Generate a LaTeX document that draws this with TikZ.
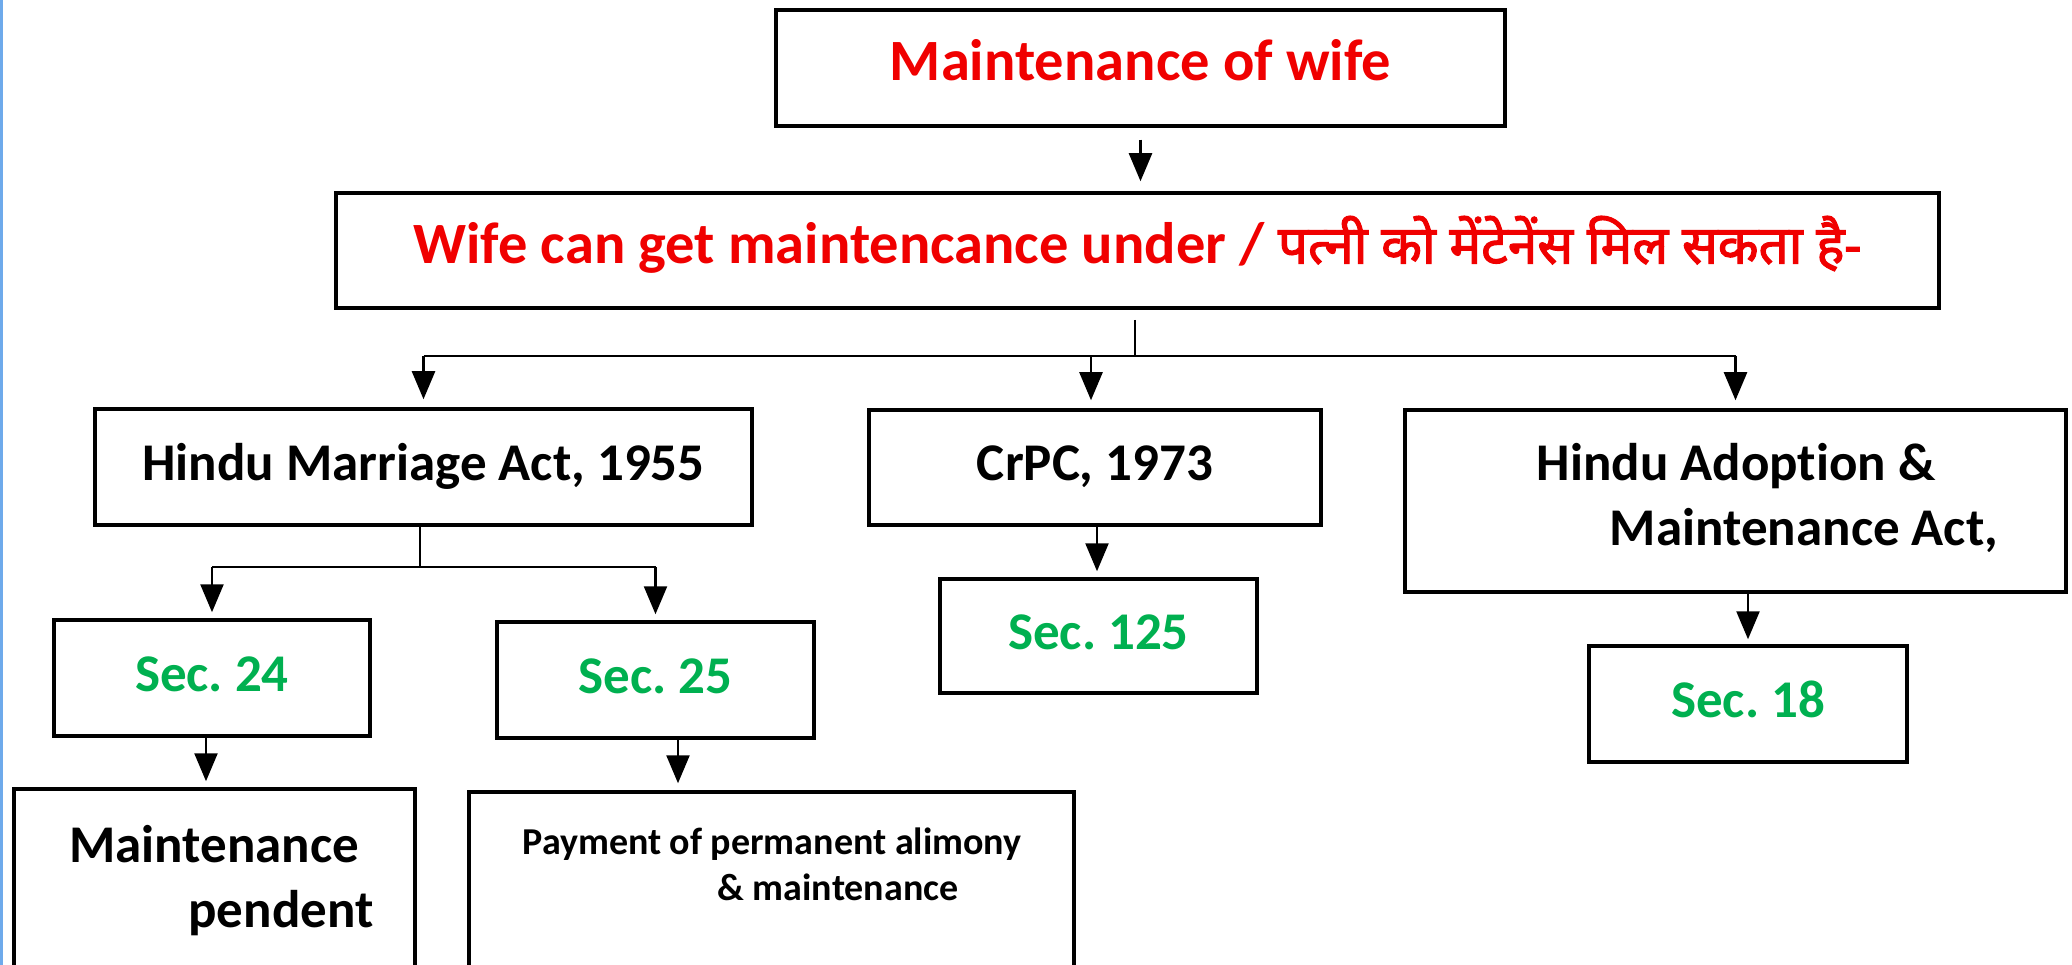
\documentclass[tikz,border=0pt]{standalone}
\usepackage{fontspec}
\setmainfont{Carlito}[Ligatures=NoCommon]
\newfontfamily\hindi[Script=Devanagari,AutoFakeBold=2.2]{Noto Sans}
\usetikzlibrary{arrows.meta,calc}
\definecolor{tred}{RGB}{240,0,0}
\definecolor{tgreen}{RGB}{0,176,80}
\definecolor{edgeblue}{RGB}{110,170,235}
\frenchspacing
\begin{document}
\begin{tikzpicture}[x=1pt,y=-1pt,
  box/.style={draw=black, line width=3.5pt, inner sep=0pt, text height=26pt, text depth=0pt,
    font=\bfseries\fontsize{53}{64}\selectfont},
  redbox/.style={box, text=tred, font=\bfseries\fontsize{58.5}{70}\selectfont},
  secbox/.style={box, text=tgreen},
  lbl/.style={inner sep=0pt, anchor=base, font=\bfseries\fontsize{53}{64}\selectfont},
  conn/.style={line width=2.4pt},
  arr/.style={line width=2.4pt, -{Triangle[length=28pt,width=23pt]}, shorten >=8pt},
]
\useasboundingbox (0,0) rectangle (2072,965);
\clip (0,0) rectangle (2072,965);
\fill[white] (0,0) rectangle (2072,965);
\fill[edgeblue] (0,0) rectangle (3,965);

% level 0 and 1
\node[redbox, minimum width=729pt, minimum height=116pt] (b1) at (1140.5,68) {Maintenance of wife};
\node[redbox, minimum width=1603pt, minimum height=115pt] (b2) at (1137.5,250.5)
  {Wife can get maintencance under / {\hindi\bfseries\fontsize{53}{64}\selectfont पत्नी को मेंटेनेंस मिल सकता है-}};

% acts
\node[box, minimum width=657pt, minimum height=116pt] (hma) at (423.5,467) {Hindu Marriage Act, 1955};
\node[box, minimum width=452pt, minimum height=115pt] (crpc) at (1095,467.5) {CrPC, 1973};
\node[box, minimum width=661pt, minimum height=182pt] (hama) at (1735.5,501) {};
\node[lbl] (hama1) at (1736,480) {Hindu Adoption \&};
\node[lbl] (hama2) at (1804,545) {Maintenance Act,};

% sections
\node[secbox, minimum width=316pt, minimum height=116pt] (s24) at (212,678) {Sec. 24};
\node[secbox, minimum width=317pt, minimum height=116pt] (s25) at (655.5,680) {Sec. 25};
\node[secbox, minimum width=317pt, minimum height=114pt] (s125) at (1098.5,636) {Sec. 125};
\node[secbox, minimum width=318pt, minimum height=116pt] (s18) at (1748,704) {Sec. 18};

% bottom boxes (cut by the lower edge)
\node[box, minimum width=401pt, minimum height=222pt] (mp) at (214.5,900) {};
\node[lbl] (mp1) at (214,862) {Maintenance};
\node[lbl] (mp2) at (281,927) {pendent};
\node[box, minimum width=605pt, minimum height=219pt] (pay) at (771.5,901.5) {};
\node[lbl, font=\bfseries\fontsize{38}{46}\selectfont] (pay1) at (772,854) {Payment of permanent alimony};
\node[lbl, font=\bfseries\fontsize{38}{46}\selectfont] (pay2) at (838,900) {\& maintenance};

% connectors
\draw[arr, shorten <=12pt, shorten >=10pt] (b1.south) -- (b1.south |- b2.north);

\coordinate (t0) at (1135,320);
\coordinate (t1) at (1135,356);
\draw[conn] (t0) -- (t1);
\draw[conn] (hma.north |- t1) -- (hama.north |- t1);
\draw[arr] (hma.north |- t1) -- (hma.north);
\draw[arr] ($(crpc.north |- t1)+(-4,0)$) -- ($(crpc.north)+(-4,0)$);
\draw[arr] (hama.north |- t1) -- (hama.north);

\coordinate (h1) at (420,567);
\draw[conn] (hma.south -| h1) -- (h1);
\draw[conn] (s24.north |- h1) -- (s25.north |- h1);
\draw[arr, shorten >=6pt] (s24.north |- h1) -- (s24.north);
\draw[arr, shorten >=6pt] (s25.north |- h1) -- (s25.north);

\draw[arr, shorten >=6pt] ($(crpc.south)+(2,0)$) -- ($(s125.north)+(-1.5,0)$);
\draw[arr, shorten >=5pt] ($(hama.south)+(12.5,0)$) -- (s18.north);
\draw[arr, shorten >=6pt] ($(s24.south)+(-6,0)$) -- ($(s24.south |- mp.north)+(-6,0)$);
\coordinate (p0) at (678,738);
\draw[arr, shorten >=7pt] (p0) -- (p0 |- pay.north);
\end{tikzpicture}
\end{document}
